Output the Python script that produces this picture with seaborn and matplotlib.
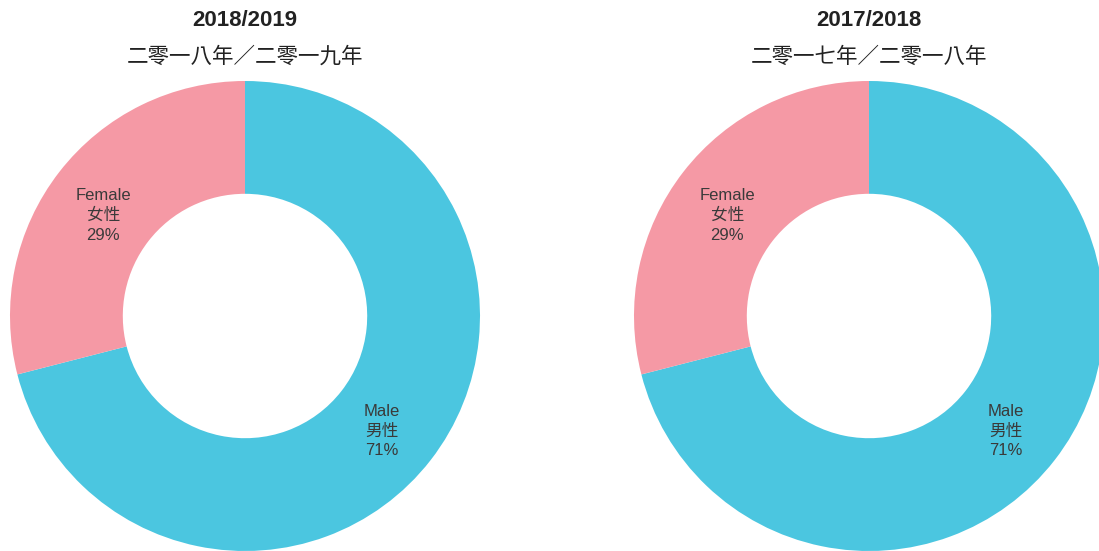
import matplotlib
matplotlib.use("Agg")
import matplotlib.pyplot as plt
import seaborn as sns

sns.set_theme(style="white")
plt.rcParams["font.family"] = ["Liberation Sans", "Noto Sans CJK TC", "DejaVu Sans"]

# data
titles = ["2018/2019", "2017/2018"]
subtitles = ["二零一八年／二零一九年", "二零一七年／二零一八年"]
categories_en = ["Male", "Female"]
categories_zh = ["男性", "女性"]
share_1819 = [71, 29]
share_1718 = [71, 29]
shares = [share_1819, share_1718]

colors = ["#4BC6E0", "#F599A5"]
W, H = 1099, 551

fig = plt.figure(figsize=(W / 100, H / 100), dpi=100)
fig.patch.set_facecolor("white")

centers_x = [245, 869]
cy = 316
r = 235

for cx, title, sub, vals in zip(centers_x, titles, subtitles, shares):
    ax = fig.add_axes([(cx - r) / W, (H - cy - r) / H, 2 * r / W, 2 * r / H])
    labels = [f"{en}\n{zh}\n{v}%" for en, zh, v in zip(categories_en, categories_zh, vals)]
    wedges, texts = ax.pie(
        vals, colors=colors, startangle=90, counterclock=False,
        radius=1, labels=labels, labeldistance=0.75,
        wedgeprops=dict(width=0.48, edgecolor="none"),
        textprops=dict(fontsize=12, color="#3a3a3a", ha="center", va="center",
                       linespacing=1.4),
    )
    for t in texts:
        t.set_horizontalalignment("center")
        x, y = t.get_position()
        t.set_position((x - 0.01, y - 0.03))
    ax.set_xlim(-1, 1)
    ax.set_ylim(-1, 1)
    ax.set_aspect("equal")
    ax.axis("off")

    fig.text(cx / W, 1 - 20 / H, title, ha="center", va="center",
             fontsize=16, fontweight="bold", color="#222222")
    fig.text(cx / W, 1 - 57 / H, sub, ha="center", va="center",
             fontsize=15.5, color="#222222")

fig.savefig("out.png", dpi=100)
